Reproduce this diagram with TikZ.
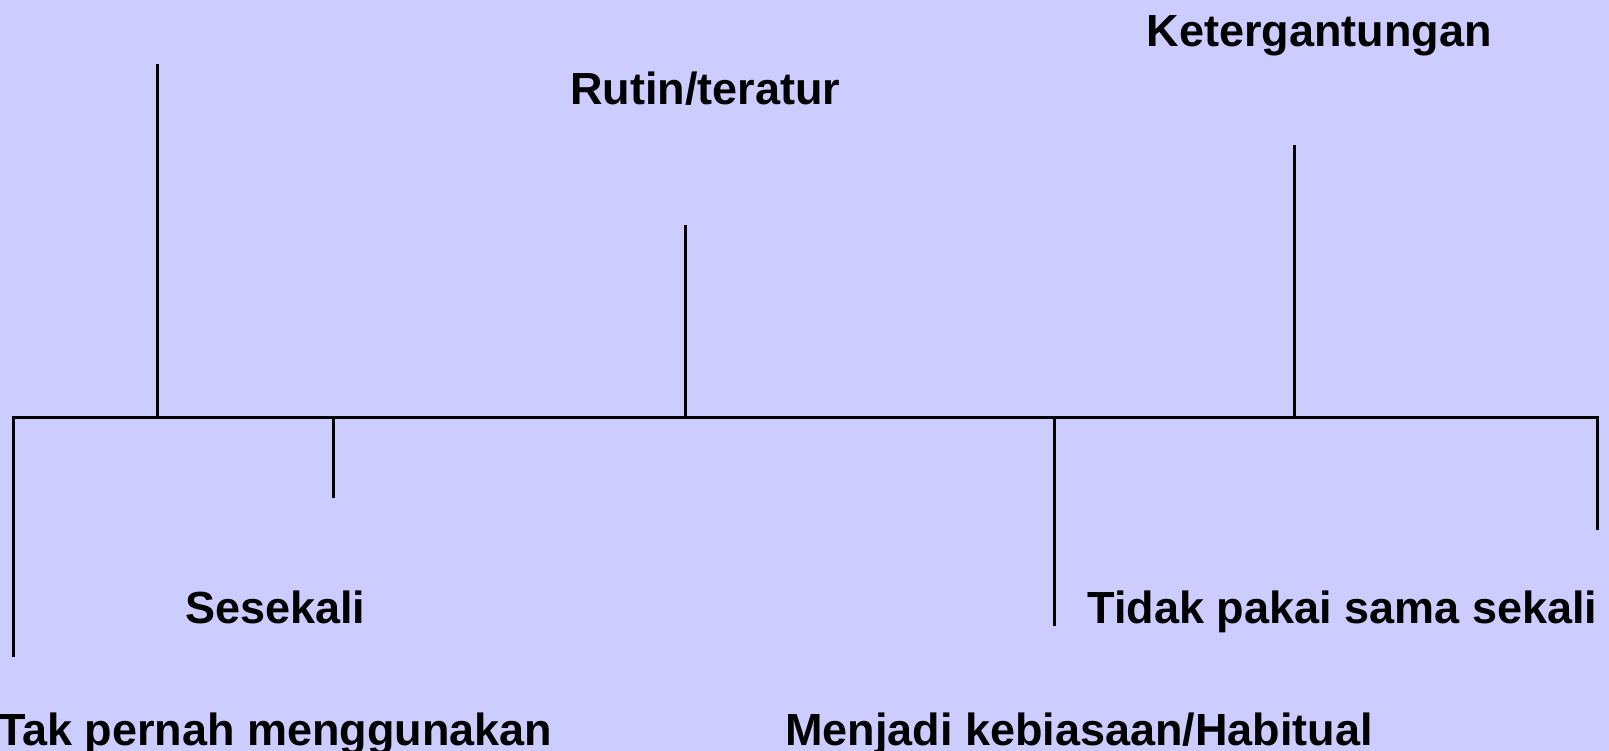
\documentclass[tikz,border=0pt]{standalone}
\usepackage{fontspec}
\setmainfont{Liberation Sans}
\definecolor{bgc}{RGB}{204,204,255}
\begin{document}
\begin{tikzpicture}[x=1pt,y=-1pt,
  axis/.style={line width=3pt, black},
  lbl/.style={font=\bfseries\fontsize{45}{54}\selectfont, inner sep=0pt, anchor=base west}]
\fill[bgc] (0,0) rectangle (1609,751);
\useasboundingbox (0,0) rectangle (1609,751);
% axis coordinates
\coordinate (L0) at (13.3,657);
\coordinate (L1) at (13.3,417);
\coordinate (R1) at (1597.5,417);
\coordinate (R0) at (1597.5,530);
\coordinate (a1) at (157.3,417);  \coordinate (a0) at (157.3,64.5);
\coordinate (b1) at (333.5,417);  \coordinate (b0) at (333.5,497.5);
\coordinate (c1) at (685,417);    \coordinate (c0) at (685,225);
\coordinate (d1) at (1054,417);   \coordinate (d0) at (1054,625.5);
\coordinate (e1) at (1294.5,417); \coordinate (e0) at (1294.5,145.5);
\draw[axis] (L0) -- (L1) -- (R1) -- (R0);
\draw[axis] (a1) -- (a0);
\draw[axis] (b1) -- (b0);
\draw[axis] (c1) -- (c0);
\draw[axis] (d1) -- (d0);
\draw[axis] (e1) -- (e0);
% labels
\node[lbl] (ket) at (1146.5,46.5) {Ketergantungan};
\node[lbl] (rut) at (570,105) {Rutin/teratur};
\node[lbl] (ses) at (185,623) {Sesekali};
\node[lbl] (tid) at (1087.5,623) {Tidak pakai sama sekali};
\node[lbl] (tak) at (-2,745) {Tak pernah menggunakan};
\node[lbl] (men) at (785,745) {Menjadi kebiasaan/Habitual};
\end{tikzpicture}
\end{document}
